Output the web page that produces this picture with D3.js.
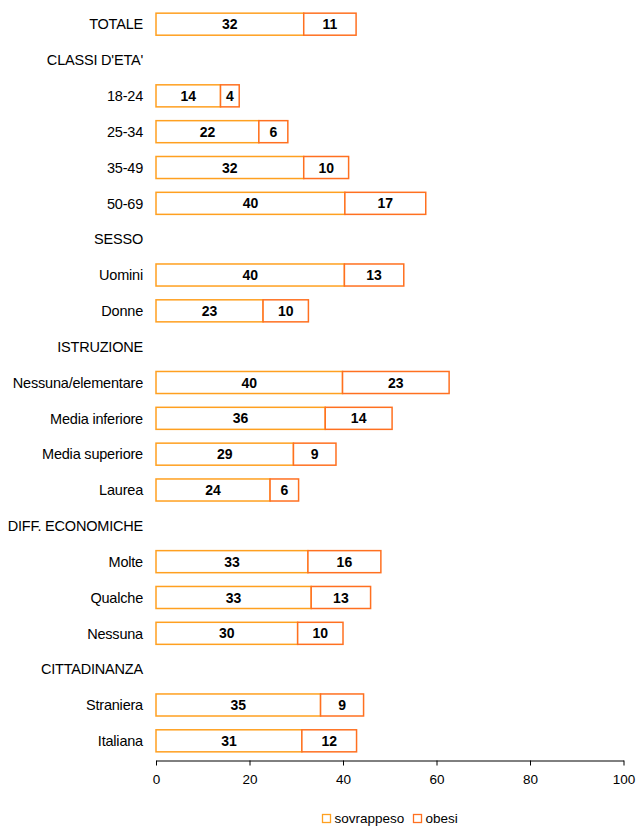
<!DOCTYPE html>
<html>
<head>
<meta charset="utf-8">
<script src="https://cdn.jsdelivr.net/npm/d3@7"></script>
<style>
  body { margin: 0; background: #fff; }
  text { font-family: "Liberation Sans", Arial, sans-serif; fill: #000; }
</style>
</head>
<body>
<div id="main"></div>
<script>
const width = 636;
const height = 827;

// rows top to bottom; headers have no values
const categories = ['TOTALE', "CLASSI D'ETA'", '18-24', '25-34', '35-49', '50-69',
  'SESSO', 'Uomini', 'Donne', 'ISTRUZIONE', 'Nessuna/elementare', 'Media inferiore',
  'Media superiore', 'Laurea', 'DIFF. ECONOMICHE', 'Molte', 'Qualche', 'Nessuna',
  'CITTADINANZA', 'Straniera', 'Italiana'];
const sovrappeso = [31.6, null, 13.8, 22.0, 31.6, 40.4,
  null, 40.3, 22.9, null, 39.9, 36.2,
  29.4, 24.4, null, 32.5, 33.2, 30.3,
  null, 35.2, 31.2];
const obesi = [11.2, null, 4.0, 6.2, 9.6, 17.3,
  null, 12.7, 9.7, null, 22.8, 14.3,
  9.1, 6.1, null, 15.6, 12.7, 9.7,
  null, 9.2, 11.7];
const ticks = [0, 20, 40, 60, 80, 100];
const seriesNames = ['sovrappeso', 'obesi'];
const colors = ['#ffa020', '#ff7020'];

const svg = d3.select('#main')
    .append('svg')
    .attr('width', width)
    .attr('height', height);

const x = d3.scaleLinear().domain([0, 100]).range([156, 623.5]);
const y = d3.scaleBand().domain(categories).range([6, 759]).paddingInner(0.385).paddingOuter(0.2);

// category labels
svg.append('g').selectAll('text')
    .data(categories)
    .enter()
    .append('text')
    .attr('x', 143)
    .attr('y', d => y(d) + y.bandwidth() / 2)
    .attr('dy', '0.36em')
    .attr('text-anchor', 'end')
    .style('font-size', '14.5px')
    .style('letter-spacing', '-0.2px')
    .text(d => d);

const rows = categories.map((c, i) => ({c, s: sovrappeso[i], o: obesi[i]}))
    .filter(d => d.s != null);

const bars = svg.append('g').selectAll('g')
    .data(rows)
    .enter()
    .append('g');

// segments
bars.append('rect')
    .attr('x', d => x(0))
    .attr('y', d => y(d.c))
    .attr('width', d => x(d.s) - x(0))
    .attr('height', y.bandwidth())
    .attr('fill', '#fff')
    .attr('stroke', colors[0])
    .attr('stroke-width', 1.5);

bars.append('rect')
    .attr('x', d => x(d.s))
    .attr('y', d => y(d.c))
    .attr('width', d => x(d.s + d.o) - x(d.s))
    .attr('height', y.bandwidth())
    .attr('fill', '#fff')
    .attr('stroke', colors[1])
    .attr('stroke-width', 1.5);

bars.append('text')
    .attr('x', d => (x(0) + x(d.s)) / 2)
    .attr('y', d => y(d.c) + y.bandwidth() / 2)
    .attr('dy', '0.36em')
    .attr('text-anchor', 'middle')
    .style('font-size', '14px')
    .style('font-weight', 'bold')
    .text(d => Math.round(d.s));

bars.append('text')
    .attr('x', d => (x(d.s) + x(d.s + d.o)) / 2)
    .attr('y', d => y(d.c) + y.bandwidth() / 2)
    .attr('dy', '0.36em')
    .attr('text-anchor', 'middle')
    .style('font-size', '14px')
    .style('font-weight', 'bold')
    .text(d => Math.round(d.o));

// x axis
const axis = svg.append('g')
    .attr('transform', 'translate(0,760.5)')
    .call(d3.axisBottom(x).tickValues(ticks).tickSize(5).tickPadding(9).tickSizeOuter(0));
axis.select('.domain').attr('stroke', '#000');
axis.selectAll('.tick line').attr('stroke', '#000');
axis.selectAll('.tick text')
    .style('font-family', '"Liberation Sans", Arial, sans-serif')
    .style('font-size', '13.5px');
axis.selectAll('.tick text').attr('dy', '0.71em');

// legend
const legendX = [322.5, 413.5];
const legend = svg.append('g').selectAll('g')
    .data(seriesNames)
    .enter()
    .append('g')
    .attr('transform', (d, i) => `translate(${legendX[i]},814.5)`);
legend.append('rect')
    .attr('width', 8)
    .attr('height', 8)
    .attr('fill', '#fff')
    .attr('stroke', (d, i) => colors[i])
    .attr('stroke-width', 1.3);
legend.append('text')
    .attr('x', 12)
    .attr('y', 4)
    .attr('dy', '0.36em')
    .style('font-size', '13.5px')
    .text(d => d);
</script>
</body>
</html>
